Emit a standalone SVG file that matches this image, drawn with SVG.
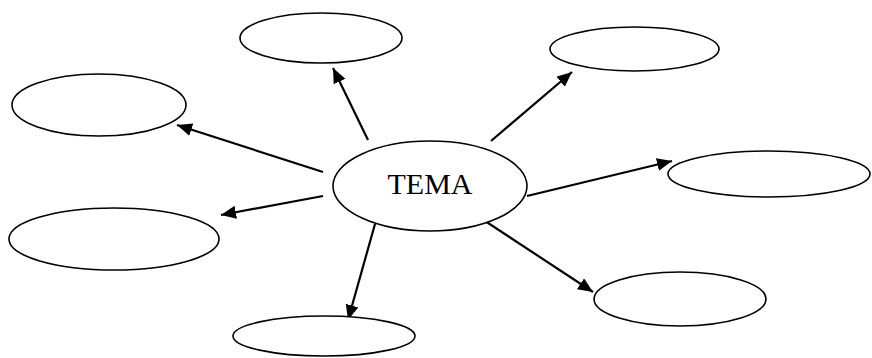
<svg xmlns="http://www.w3.org/2000/svg" width="872" height="358" viewBox="0 0 872 358">
<style>
.node ellipse{fill:#fff;stroke:#000;stroke-width:1.6}
.conn line{stroke:#000;stroke-width:2.2;marker-end:url(#ah)}
.lbl{font-family:"Liberation Serif","Times New Roman",serif;font-size:30px;fill:#000;text-anchor:middle}
</style>
<defs>
<marker id="ah" markerUnits="userSpaceOnUse" markerWidth="16" markerHeight="14" refX="15" refY="6.5" orient="auto">
<path d="M0,0 L15,6.5 L0,13 z" fill="#000"/>
</marker>
</defs>
<rect width="872" height="358" fill="#fff"/>
<g class="conn">
<line x1="368" y1="140" x2="333" y2="68"/>
<line x1="491" y1="141" x2="572" y2="72"/>
<line x1="323" y1="172" x2="177" y2="125"/>
<line x1="323" y1="196" x2="221" y2="215"/>
<line x1="527" y1="196" x2="672" y2="161"/>
<line x1="482" y1="219" x2="593" y2="292"/>
<line x1="375" y1="224" x2="348" y2="320"/>
</g>
<g id="center" class="node"><ellipse cx="430" cy="186" rx="97" ry="45"/><text class="lbl" x="430" y="194">TEMA</text></g>
<g id="n-top" class="node"><ellipse cx="321" cy="38" rx="81" ry="25"/></g>
<g id="n-topright" class="node"><ellipse cx="634.5" cy="49" rx="84.5" ry="22"/></g>
<g id="n-lefttop" class="node"><ellipse cx="99" cy="105" rx="87" ry="31"/></g>
<g id="n-leftbottom" class="node"><ellipse cx="114" cy="239" rx="105" ry="31"/></g>
<g id="n-right" class="node"><ellipse cx="769" cy="174" rx="101" ry="23"/></g>
<g id="n-bottomright" class="node"><ellipse cx="680" cy="299" rx="86" ry="27"/></g>
<g id="n-bottom" class="node"><ellipse cx="324" cy="336" rx="91" ry="20"/></g>
</svg>
